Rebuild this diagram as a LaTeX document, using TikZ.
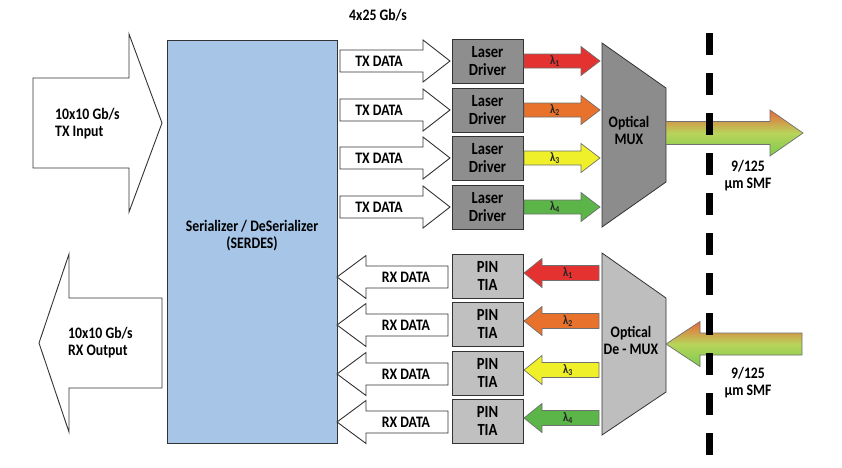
\documentclass[tikz,border=0pt]{standalone}
\usepackage{fontspec}
\setmainfont{Carlito}[FakeStretch=0.86]
\definecolor{serdes}{HTML}{A6C5E7}
\definecolor{ldgray}{HTML}{8E8E8E}
\definecolor{pingray}{HTML}{C0C0C0}
\definecolor{muxgray}{HTML}{8C8C8C}
\definecolor{demuxgray}{HTML}{BEBEBE}
\definecolor{lred}{HTML}{E3322F}
\definecolor{lorange}{HTML}{E8722C}
\definecolor{lyellow}{HTML}{F0F02A}
\definecolor{lgreen}{HTML}{5BB548}
\definecolor{ftop}{HTML}{E8683C}
\definecolor{fmid}{HTML}{B8D45A}
\definecolor{fbot}{HTML}{7CCB4E}
\definecolor{edge}{HTML}{333333}
\newcommand\RArr[7]{\draw[#7] (#1,#4-#5) -- (#2,#4-#5) -- (#2,#4-#6) -- (#3,#4) -- (#2,#4+#6) -- (#2,#4+#5) -- (#1,#4+#5) -- cycle;}
\newcommand\LArr[7]{\draw[#7] (#3,#4-#5) -- (#2,#4-#5) -- (#2,#4-#6) -- (#1,#4) -- (#2,#4+#6) -- (#2,#4+#5) -- (#3,#4+#5) -- cycle;}
\begin{document}
\begin{tikzpicture}[x=1pt,y=-1pt,
  txt/.style={font=\bfseries\fontsize{16}{17}\selectfont, text=black, inner sep=0pt, align=center},
  boxtxt/.style={font=\bfseries\fontsize{17}{18}\selectfont, align=center},
  lam/.style={font=\bfseries\fontsize{13}{14}\selectfont, text=black!85, inner sep=0pt},
  blk/.style={draw=edge, line width=1pt},
  arr/.style={draw=edge, line width=0.9pt, fill=white, line join=miter},
  larr/.style={draw=edge!70, line width=0.7pt}]
\useasboundingbox (0,0) rectangle (842,467);
\fill[white] (0,0) rectangle (842,467);
% big I/O arrows
\RArr{33}{129}{162}{123}{45}{89}{arr}
\LArr{39}{69}{162}{343}{45}{89}{arr}
\node[txt, anchor=west, align=left] (txin) at (55,124) {10x10 Gb/s\\TX Input};
\node[txt, anchor=west, align=left] (rxout) at (68,343) {10x10 Gb/s\\RX Output};
% SERDES
\node[blk, fill=serdes, minimum width=170pt, minimum height=403pt, inner sep=0pt] (serdes) at (252,241.5) {};
\node[txt] (serdestxt) at (252,236) {Serializer / DeSerializer\\(SERDES)};
\node[txt] (rate) at (378,15) {4x25 Gb/s};
% TX rows
\foreach \y/\c [count=\i] in {61/lred,110/lorange,158/lyellow,207/lgreen}{
  \RArr{340}{423}{450}{\y}{11}{21}{arr}
  \node[txt] (txd\i) at (379,\y) {TX DATA};
  \node[blk, fill=ldgray, minimum width=71pt, minimum height=44pt, inner sep=0pt, boxtxt] (ld\i) at (487.5,\y) {Laser\\Driver};
  \RArr{524}{581}{600}{\y}{7}{14.5}{larr, fill=\c}
  \node[lam] (lt\i) at (555,\y) {λ\textsubscript{\i}};
}
% RX rows
\foreach \y/\c [count=\i] in {277/lred,325/lorange,374/lyellow,422/lgreen}{
  \LArr{337}{366}{448}{\y}{11}{21.5}{arr}
  \node[txt] (rxd\i) at (406,\y) {RX DATA};
  \node[blk, fill=pingray, minimum width=71pt, minimum height=44pt, inner sep=0pt, boxtxt] (pin\i) at (487.5,\y-1) {PIN\\TIA};
  \LArr{524}{542}{599}{\y-4}{7.5}{14.5}{larr, fill=\c}
  \node[lam] (lr\i) at (568,\y-4) {λ\textsubscript{\i}};
}
% MUX / DeMUX
\draw[blk, line width=0.8pt, fill=muxgray] (602,43) -- (666,88) -- (666,182) -- (602,227) -- cycle;
\node[txt] (mux) at (629,130) {Optical\\MUX};
\draw[blk, line width=0.8pt, fill=demuxgray] (602,253) -- (666,298) -- (666,392) -- (602,435) -- cycle;
\node[txt] (demux) at (631,340) {Optical\\De - MUX};
% fiber arrows
\RArr{666}{770}{803}{133}{11.5}{23}{larr, top color=ftop, bottom color=fbot, middle color=fmid}
\LArr{666}{700}{802}{344}{11}{22.5}{larr, top color=ftop, bottom color=fbot, middle color=fmid}
\node[txt] (smf1) at (748,176) {9/125\\µm SMF};
\node[txt] (smf2) at (748,383) {9/125\\µm SMF};
% dashed boundary
\draw[line width=7pt, dash pattern=on 22pt off 18pt] (709,33) -- (709,467);
\end{tikzpicture}
\end{document}
